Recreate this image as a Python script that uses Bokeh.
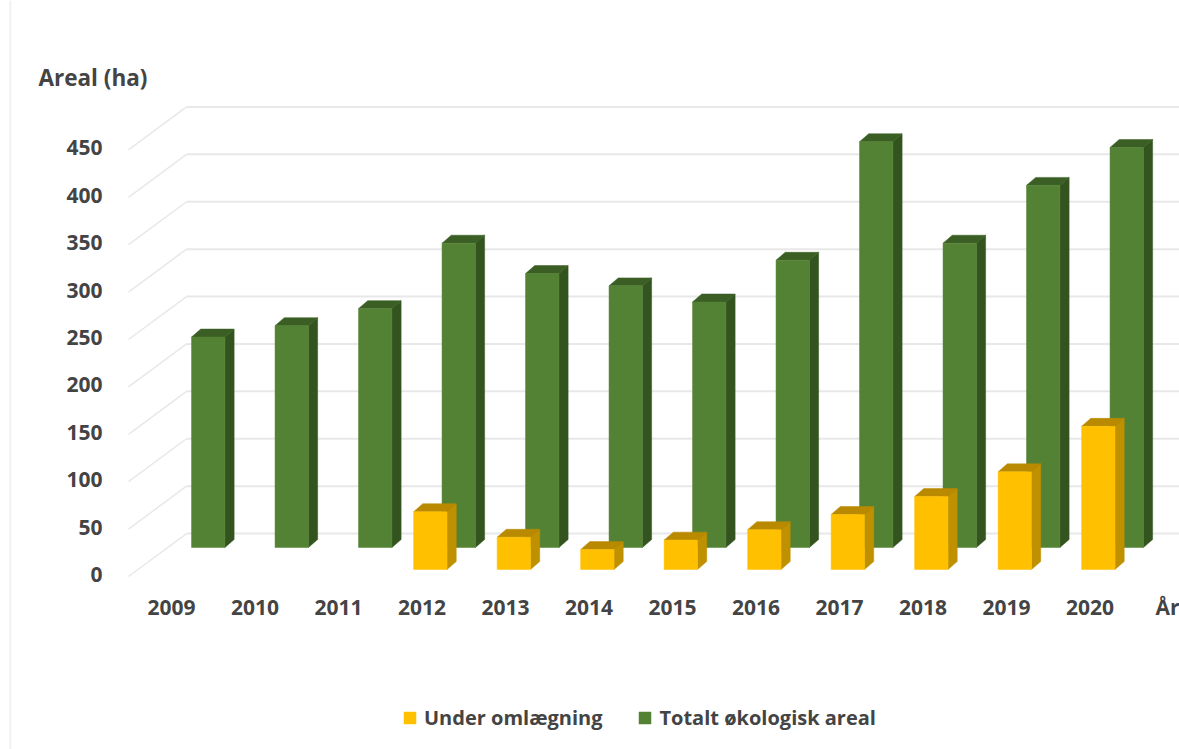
from bokeh.embed import file_html
from bokeh.resources import INLINE
from bokeh.plotting import figure
from bokeh.models import FixedTicker, Label, Legend, LegendItem, Range1d

# ---- data ----
years = [2009, 2010, 2011, 2012, 2013, 2014, 2015, 2016, 2017, 2018, 2019, 2020]
total_area = [222, 234, 252, 321, 289, 276, 259, 303, 428, 321, 382, 422]
conversion_years = [2012, 2013, 2014, 2015, 2016, 2017, 2018, 2019, 2020]
conversion_area = [61, 34, 21, 31, 42, 58, 77, 103, 151]
y_ticks = [0, 50, 100, 150, 200, 250, 300, 350, 400, 450]
axis_end_label = "År"
y_title = "Areal (ha)"
series_names = ["Under omlægning", "Totalt økologisk areal"]

# ---- 3D projection, in axis units ----
BAR_W = 0.40
DEPTH_X = 0.11
DEPTH_Y = 8.4
GREEN_SHIFT = 0.44
GREEN_BASE = 28.5
YELLOW_SHIFT = 0.10
YELLOW_BASE = 5.3
WALL_X = 2009.18
WALL_Y = 43.2
FLOOR_X = 2008.485
FLOOR_Y = -2.1
X_MIN, X_MAX = 2006.952, 2021.072
Y_MIN, Y_MAX = -184.6, 605.5
Y_AXIS_AT = 2008.365
X_AXIS_AT = -11.0
END_TICK = 2020.93
FRAME_LINE_X = 2007.07

INK = "#444444"
GRID = "#e8e8e8"
FONT = "Open Sans"

p = figure(width=1179, height=749, output_backend="svg", toolbar_location=None,
           min_border=0, x_range=Range1d(X_MIN, X_MAX), y_range=Range1d(Y_MIN, Y_MAX))
p.outline_line_color = None
p.xgrid.visible = False
p.ygrid.visible = False

for ax in (p.xaxis[0], p.yaxis[0]):
    ax.axis_line_color = None
    ax.major_tick_line_color = None
    ax.minor_tick_line_color = None
    ax.major_label_text_font = FONT
    ax.major_label_text_font_size = "21px"
    ax.major_label_text_font_style = "bold"
    ax.major_label_text_color = INK

p.yaxis[0].ticker = FixedTicker(ticks=y_ticks)
p.yaxis[0].major_label_standoff = 10
p.yaxis[0].fixed_location = Y_AXIS_AT
p.xaxis[0].ticker = FixedTicker(ticks=years + [END_TICK])
p.xaxis[0].major_label_overrides = {**{y: str(y) for y in years}, END_TICK: axis_end_label}
p.xaxis[0].major_label_standoff = 2
p.xaxis[0].fixed_location = X_AXIS_AT

# faint picture edge on the left
p.segment(x0=[FRAME_LINE_X], x1=[FRAME_LINE_X], y0=[Y_MIN], y1=[Y_MAX], line_color="#f1f1f1", line_width=2)

# back wall and floor-side diagonals
p.segment(x0=[WALL_X] * len(y_ticks), x1=[X_MAX] * len(y_ticks),
          y0=[v + WALL_Y for v in y_ticks], y1=[v + WALL_Y for v in y_ticks],
          line_color=GRID, line_width=2)
p.segment(x0=[FLOOR_X] * len(y_ticks), x1=[WALL_X] * len(y_ticks),
          y0=[v + FLOOR_Y for v in y_ticks], y1=[v + WALL_Y for v in y_ticks],
          line_color=GRID, line_width=1.5)


def bars(xs, vals, shift, base, front, side, top):
    left = [x + shift - BAR_W / 2 for x in xs]
    right = [x + shift + BAR_W / 2 for x in xs]
    tops = [base + v for v in vals]
    p.patches(
        xs=[[r, r + DEPTH_X, r + DEPTH_X, r] for r in right],
        ys=[[base, base + DEPTH_Y, t + DEPTH_Y, t] for t in tops],
        fill_color=side, line_color=side, line_width=0.5)
    p.patches(
        xs=[[l, r, r + DEPTH_X, l + DEPTH_X] for l, r in zip(left, right)],
        ys=[[t, t, t + DEPTH_Y, t + DEPTH_Y] for t in tops],
        fill_color=top, line_color=top, line_width=0.5)
    return p.vbar(x=[x + shift for x in xs], width=BAR_W, bottom=base, top=tops,
                  fill_color=front, line_color=front, line_width=0.5)


r_green = bars(years, total_area, GREEN_SHIFT, GREEN_BASE, "#548235", "#34541f", "#3a5e23")
r_yellow = bars(conversion_years, conversion_area, YELLOW_SHIFT, YELLOW_BASE, "#ffc000", "#bf9000", "#b98a00")

p.add_layout(Label(x=38, y=672, x_units="screen", y_units="screen", text=y_title,
                   text_font=FONT, text_font_size="22.5px", text_font_style="bold",
                   text_color=INK, text_baseline="middle"))

legend = Legend(items=[LegendItem(label=series_names[0], renderers=[r_yellow]),
                       LegendItem(label=series_names[1], renderers=[r_green])],
                orientation="horizontal", location=(402, 18), border_line_color=None,
                background_fill_alpha=0, padding=0, margin=0, spacing=35,
                glyph_width=15, glyph_height=15, label_standoff=7,
                label_text_font=FONT, label_text_font_size="20px",
                label_text_font_style="bold", label_text_color=INK)
p.add_layout(legend)

open("out.html", "w").write(file_html(p, INLINE))
